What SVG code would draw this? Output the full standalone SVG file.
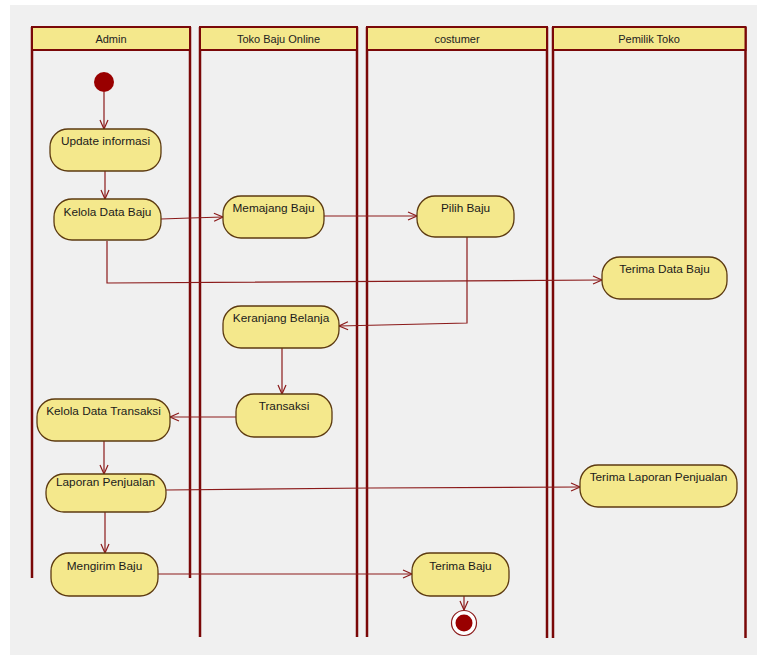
<svg xmlns="http://www.w3.org/2000/svg" width="757" height="655" viewBox="0 0 757 655">
<defs>
<style>
.lane{stroke:#7a0808;stroke-width:2.5;fill:none}
.hdr{fill:#f4e88c;stroke:#7a0808;stroke-width:2}
.ht{font-family:"Liberation Sans",Arial,sans-serif;font-size:11px;fill:#222;text-anchor:middle}
.node{fill:#f4e88c;stroke:#5c3a10;stroke-width:1.3}
.nt{font-family:"Liberation Sans",Arial,sans-serif;font-size:11.8px;fill:#1a1a1a;text-anchor:middle}
.con{stroke:#8b1a1a;stroke-width:1.2;fill:none}
</style>
<marker id="arr" markerWidth="12" markerHeight="10" refX="10" refY="5" orient="auto" markerUnits="userSpaceOnUse">
<path d="M1,1 L10,5 L1,9" fill="none" stroke="#8b1a1a" stroke-width="1.2"/>
</marker>
</defs>
<rect x="0" y="0" width="757" height="655" fill="#ffffff"/>
<rect x="10" y="5" width="747" height="650" fill="#f0f0f0"/>

<g id="lane-admin">
<line class="lane" x1="32" y1="27" x2="32" y2="578"/>
<line class="lane" x1="190" y1="27" x2="190" y2="578"/>
<rect class="hdr" x="32" y="27" width="158" height="23"/>
<text class="ht" x="111" y="43">Admin</text>
</g>
<g id="lane-toko">
<line class="lane" x1="200" y1="27" x2="200" y2="637"/>
<line class="lane" x1="357" y1="27" x2="357" y2="637"/>
<rect class="hdr" x="200" y="27" width="157" height="23"/>
<text class="ht" x="278.5" y="43">Toko Baju Online</text>
</g>
<g id="lane-costumer">
<line class="lane" x1="367" y1="27" x2="367" y2="637"/>
<line class="lane" x1="547" y1="27" x2="547" y2="638"/>
<rect class="hdr" x="367" y="27" width="180" height="23"/>
<text class="ht" x="457" y="43">costumer</text>
</g>
<g id="lane-pemilik">
<line class="lane" x1="553" y1="27" x2="553" y2="638"/>
<line class="lane" x1="745.5" y1="27" x2="745.5" y2="638"/>
<rect class="hdr" x="553" y="27" width="192.5" height="23"/>
<text class="ht" x="649" y="43">Pemilik Toko</text>
</g>

<g id="connectors">
<line class="con" x1="104" y1="92" x2="104" y2="129" marker-end="url(#arr)"/>
<line class="con" x1="105" y1="171" x2="105" y2="199" marker-end="url(#arr)"/>
<polyline class="con" points="161,219 190,218 223,217" marker-end="url(#arr)"/>
<line class="con" x1="324" y1="216" x2="417" y2="216" marker-end="url(#arr)"/>
<polyline class="con" points="467,237 467,323 339,326" marker-end="url(#arr)"/>
<polyline class="con" points="107,241 107,283 602,280" marker-end="url(#arr)"/>
<line class="con" x1="282" y1="348" x2="282" y2="394" marker-end="url(#arr)"/>
<line class="con" x1="236" y1="417" x2="170" y2="417" marker-end="url(#arr)"/>
<line class="con" x1="104" y1="441" x2="104" y2="474" marker-end="url(#arr)"/>
<polyline class="con" points="166,490 370,488 580,487" marker-end="url(#arr)"/>
<line class="con" x1="105" y1="512" x2="105" y2="553" marker-end="url(#arr)"/>
<line class="con" x1="158" y1="574" x2="412" y2="574" marker-end="url(#arr)"/>
<line class="con" x1="464" y1="596" x2="464" y2="610" marker-end="url(#arr)"/>
</g>

<g id="start">
<circle cx="104" cy="82" r="10" fill="#990000"/>
</g>
<g id="update-informasi">
<rect class="node" x="50" y="129" width="111" height="42" rx="18"/>
<text class="nt" x="105.5" y="145">Update informasi</text>
</g>
<g id="kelola-data-baju">
<rect class="node" x="54" y="199" width="107" height="41" rx="18"/>
<text class="nt" x="107.5" y="216">Kelola Data Baju</text>
</g>
<g id="memajang-baju">
<rect class="node" x="223" y="196" width="101" height="42" rx="18"/>
<text class="nt" x="273.5" y="212">Memajang Baju</text>
</g>
<g id="pilih-baju">
<rect class="node" x="417" y="196" width="97" height="41" rx="18"/>
<text class="nt" x="465.5" y="212">Pilih Baju</text>
</g>
<g id="terima-data-baju">
<rect class="node" x="602" y="257" width="125" height="42" rx="18"/>
<text class="nt" x="664.5" y="273">Terima Data Baju</text>
</g>
<g id="keranjang-belanja">
<rect class="node" x="223" y="306" width="116" height="42" rx="18"/>
<text class="nt" x="281" y="322">Keranjang Belanja</text>
</g>
<g id="transaksi">
<rect class="node" x="236" y="394" width="96" height="43" rx="18"/>
<text class="nt" x="284" y="410">Transaksi</text>
</g>
<g id="kelola-data-transaksi">
<rect class="node" x="37" y="399" width="133" height="42" rx="18"/>
<text class="nt" x="103.5" y="415">Kelola Data Transaksi</text>
</g>
<g id="laporan-penjualan">
<rect class="node" x="46" y="474" width="120" height="38" rx="18"/>
<text class="nt" x="105.5" y="486">Laporan Penjualan</text>
</g>
<g id="terima-laporan-penjualan">
<rect class="node" x="580" y="465" width="157" height="42" rx="18"/>
<text class="nt" x="658.5" y="481">Terima Laporan Penjualan</text>
</g>
<g id="mengirim-baju">
<rect class="node" x="51" y="553" width="107" height="43" rx="18"/>
<text class="nt" x="104.5" y="570">Mengirim Baju</text>
</g>
<g id="terima-baju">
<rect class="node" x="412" y="553" width="97" height="43" rx="18"/>
<text class="nt" x="460.5" y="570">Terima Baju</text>
</g>
<g id="end">
<circle cx="464" cy="623" r="12.5" fill="#ffffff" stroke="#8b1a1a" stroke-width="1.2"/>
<circle cx="464" cy="623" r="8.5" fill="#990000"/>
</g>
</svg>
